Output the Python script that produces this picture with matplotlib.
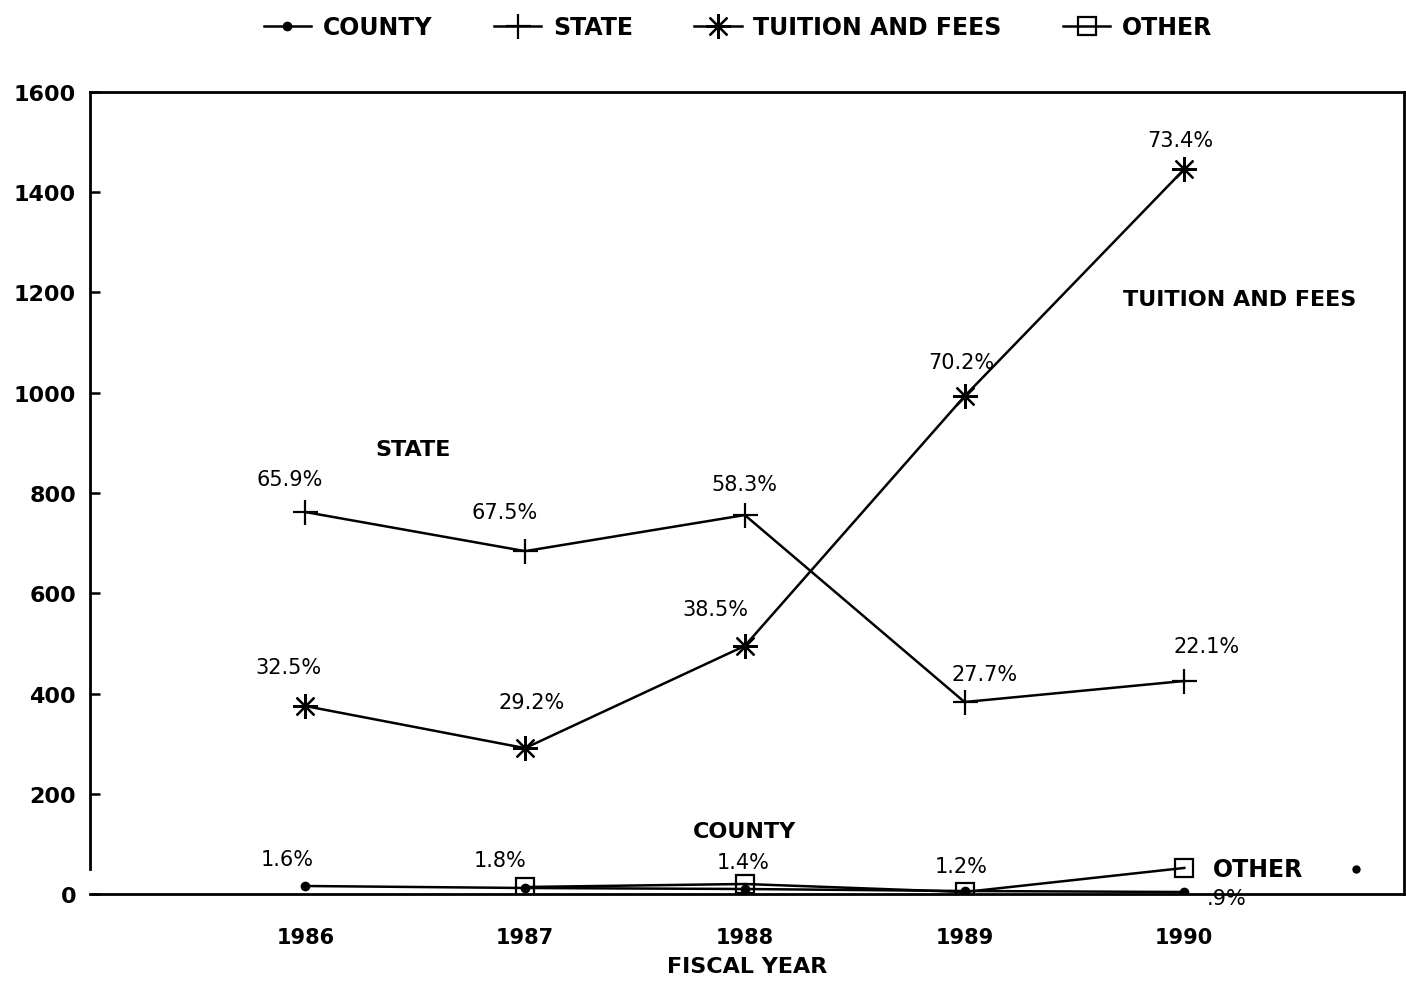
import matplotlib

matplotlib.use("Agg")
import matplotlib.pyplot as plt

YEARS = [1986, 1987, 1988, 1989, 1990]

# revenue by source, in thousands
county = [16, 12, 10, 6, 4]
state = [762, 684, 756, 383, 425]
tuition = [375, 291, 495, 993, 1446]
other = [float("nan"), 14, 20, 4, 52]

# share of total revenue, as printed beside each point
county_pct = ["1.6%", "1.8%", "1.4%", "1.2%", ".9%"]
state_pct = ["65.9%", "67.5%", "58.3%", "27.7%", "22.1%"]
tuition_pct = ["32.5%", "29.2%", "38.5%", "70.2%", "73.4%"]

Y_TICKS = [0, 200, 400, 600, 800, 1000, 1200, 1400, 1600]

# label offsets in pixels from each point (to the label centre)
county_off = [(-18, 27), (-25, 28), (-2, 27), (-3, 25), (42, -6)]
state_off = [(-16, 33), (-20, 39), (0, 31), (20, 28), (22, 35)]
tuition_off = [(-17, 39), (7, 46), (-29, 37), (-3, 34), (-4, 29)]


def main() -> None:
    plt.rcParams["font.family"] = "DejaVu Sans"
    fig = plt.figure(figsize=(14.06, 9.87), dpi=100)
    ax = fig.add_axes([0.064, 0.0932, 0.9346, 0.8126])

    line_kw = dict(color="black", linewidth=1.8)
    ax.plot(YEARS, county, marker="o", markersize=6, label="COUNTY", **line_kw)
    ax.plot(YEARS, state, marker="+", markersize=18, markeredgewidth=1.6,
            label="STATE", **line_kw)
    ax.plot(YEARS, tuition, marker=(8, 2, 0), markersize=18,
            markeredgewidth=1.6, label="TUITION AND FEES", **line_kw)
    ax.plot(YEARS, other, marker="s", markersize=13, fillstyle="none",
            markeredgewidth=1.6, label="OTHER", **line_kw)

    pct_kw = dict(textcoords="offset pixels", ha="center", va="center",
                  fontsize=15)
    for values, labels, offsets in [
        (county, county_pct, county_off),
        (state, state_pct, state_off),
        (tuition, tuition_pct, tuition_off),
    ]:
        for x, y, text, off in zip(YEARS, values, labels, offsets):
            ax.annotate(text, (x, y), xytext=off, **pct_kw)

    name_kw = dict(fontsize=16, fontweight="bold", ha="center", va="center")
    ax.text(1986.49, 888, "STATE", **name_kw)
    ax.text(1990.25, 1187, "TUITION AND FEES", **name_kw)
    ax.text(1988.0, 126, "COUNTY", **name_kw)
    ax.text(1990.13, 50, "OTHER", fontsize=17, fontweight="bold",
            ha="left", va="center")
    ax.plot([1990.78], [50], marker="o", markersize=5, color="black")

    ax.set_xlim(1985.02, 1991.0)
    ax.set_ylim(0, 1600)
    ax.set_xticks(YEARS)
    ax.set_xticklabels([str(y) for y in YEARS], fontsize=15, fontweight="bold")
    ax.set_yticks(Y_TICKS)
    ax.set_yticklabels([str(y) for y in Y_TICKS], fontsize=16,
                       fontweight="bold")
    ax.tick_params(axis="x", length=0, pad=24)
    ax.tick_params(axis="y", direction="in", length=7, width=1.8, pad=10)
    ax.set_xlabel("FISCAL YEAR", fontsize=16, fontweight="bold", labelpad=6)

    for side in ["top", "right", "bottom", "left"]:
        ax.spines[side].set_linewidth(2)
    ax.spines["left"].set_bounds(50, 1600)

    fig.legend(
        loc="upper center",
        bbox_to_anchor=(0.525, 1.005),
        ncol=4,
        frameon=False,
        handlelength=2.0,
        handletextpad=0.5,
        columnspacing=2.6,
        prop={"size": 17, "weight": "bold"},
    )

    fig.savefig("out.png", dpi=100)
    plt.close(fig)


if __name__ == "__main__":
    main()
